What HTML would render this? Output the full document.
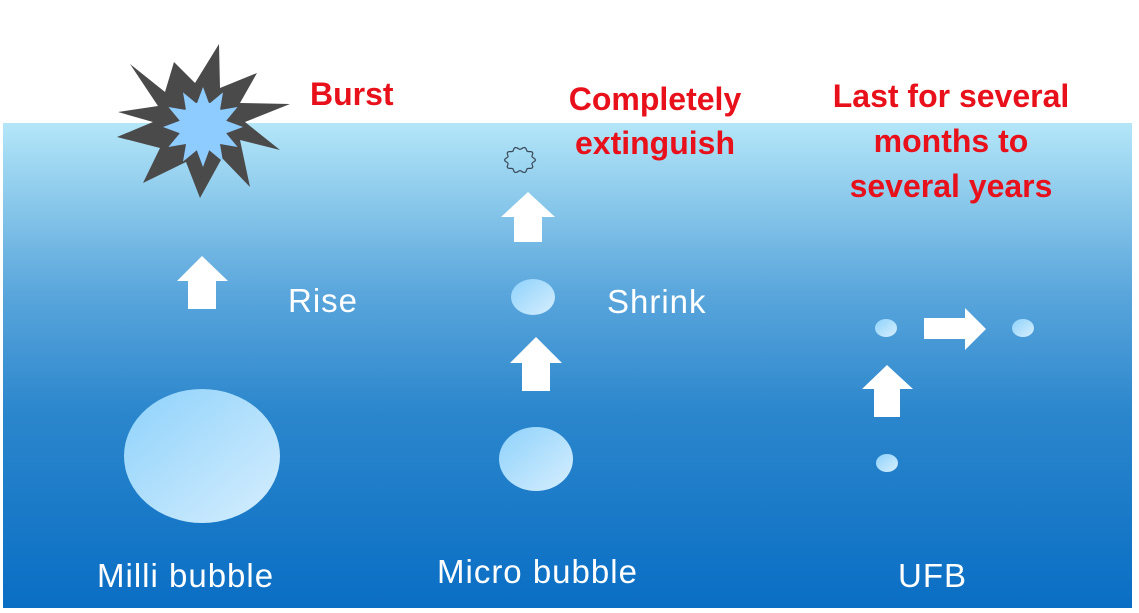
<!DOCTYPE html>
<html><head><meta charset="utf-8"><style>
body{margin:0;background:#fff;width:1139px;height:613px;overflow:hidden;position:relative;font-family:"Liberation Sans",sans-serif}
.t{position:absolute;white-space:nowrap;line-height:1}
.r{color:#e8101a;font-size:32px;font-weight:bold;text-align:center}
.w{color:#fff;font-size:33px;letter-spacing:1px}
</style></head><body>
<svg width="1139" height="613" style="position:absolute;left:0;top:0">
<defs>
<linearGradient id="wat" x1="0" y1="0" x2="0" y2="1">
<stop offset="0" stop-color="#b4e6f8"/><stop offset="0.35" stop-color="#5aa6dc"/><stop offset="0.6" stop-color="#2b86cc"/><stop offset="1" stop-color="#0a6ec4"/></linearGradient>
<linearGradient id="bub" x1="0" y1="0" x2="1" y2="1">
<stop offset="0" stop-color="#8ed2fb"/><stop offset="1" stop-color="#d6eefe"/></linearGradient>
</defs>
<rect x="3" y="123" width="1129" height="485" fill="url(#wat)"/>
<polygon fill="#4a4a4a" points="130,64 165,92 174,62 195,83 219,44 220,88 257,73 240,103 290,104 245,122 280,150 240,140 250,187 222,158 200,198 186,162 143,183 160,148 117,137 153,122 118,112 158,106"/>
<circle cx="203" cy="126" r="24" fill="#8ecbff"/>
<polygon id="in" fill="#8ecbff" points=""/>
<ellipse cx="202" cy="456" rx="78" ry="67" fill="url(#bub)"/>
<ellipse cx="536" cy="459" rx="37" ry="32" fill="url(#bub)"/>
<ellipse cx="533" cy="297" rx="22" ry="18" fill="url(#bub)"/>
<ellipse cx="886" cy="328" rx="11" ry="9" fill="url(#bub)"/>
<ellipse cx="1023" cy="328" rx="11" ry="9" fill="url(#bub)"/>
<ellipse cx="887" cy="463" rx="11" ry="9" fill="url(#bub)"/>
<polygon id="wav" fill="none" stroke="#3a4a5a" stroke-width="1.2" points=""/>
<g fill="#fff">
<polygon points="202,256 228,281 216,281 216,309 188,309 188,281 177,281"/>
<polygon points="528,192 555,217 542,217 542,242 514,242 514,217 501,217"/>
<polygon points="536,337 562,363 550,363 550,391 522,391 522,363 510,363"/>
<polygon points="887,365 913,389 900,389 900,417 874,417 874,389 862,389"/>
<polygon points="924,318 965,318 965,308 986,329 965,350 965,339 924,339"/>
</g>
</svg>
<script>
(function(){var p=[],cx=203,cy=127;for(var i=0;i<24;i++){var a=i*Math.PI/12-Math.PI/2,r=i%2?24:40;p.push((cx+r*Math.cos(a)).toFixed(1)+','+(cy+r*Math.sin(a)).toFixed(1));}document.getElementById('in').setAttribute('points',p.join(' '));
var q=[];for(var j=0;j<60;j++){var b=j*Math.PI*2/60,rr=14+1.5*Math.cos(b*10);q.push((520+rr*Math.cos(b)).toFixed(1)+','+(160+rr*0.85*Math.sin(b)).toFixed(1));}document.getElementById('wav').setAttribute('points',q.join(' '));})();
</script>
<div class="t r" style="left:310px;top:78px">Burst</div>
<div class="t r" style="left:555px;top:77px;width:200px;line-height:44px">Completely<br>extinguish</div>
<div class="t r" style="left:820px;top:74px;width:262px;line-height:45px">Last for several<br>months to<br>several years</div>
<div class="t w" style="left:288px;top:284px">Rise</div>
<div class="t w" style="left:607px;top:285px">Shrink</div>
<div class="t w" style="left:97px;top:559px">Milli bubble</div>
<div class="t w" style="left:437px;top:555px">Micro bubble</div>
<div class="t w" style="left:898px;top:559px">UFB</div>
</body></html>
